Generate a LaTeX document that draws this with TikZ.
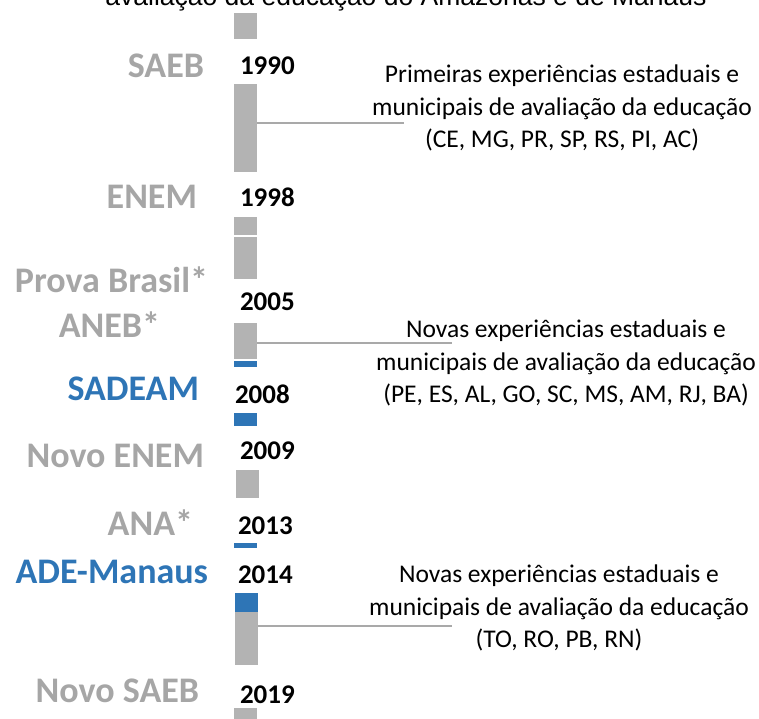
\documentclass[tikz,border=0pt]{standalone}
\usepackage{fontspec}
\setmainfont{Carlito}
\newfontfamily\titlefont{Liberation Sans}
\definecolor{labgray}{HTML}{A6A6A6}
\definecolor{bargray}{HTML}{B3B3B3}
\definecolor{linegray}{HTML}{A9A9A9}
\definecolor{sblue}{HTML}{2E75B6}
\begin{document}
\begin{tikzpicture}[x=1pt, y=-1pt,
  every node/.style = {inner sep=0, outer sep=0},
  barg/.style = {fill=bargray, minimum width=23, anchor=north west},
  barb/.style = {barg, fill=sblue},
  exam/.style = {font=\bfseries\fontsize{36}{42}\selectfont, text=labgray, anchor=base east},
  yr/.style = {font=\bfseries\fontsize{27}{31}\selectfont, anchor=base west},
  note/.style = {align=center, font=\fontsize{25.5}{32.5}\selectfont},
  link/.style = {draw=linegray, line width=1.5pt}]
  \useasboundingbox (0,0) rectangle (759,718);
  \clip (0,0) rectangle (759,718);
  % title, cut at the top
  \node[font=\titlefont\fontsize{26.5}{31}\selectfont, anchor=base] (title) at (406,5) {avaliação da educação do Amazonas e de Manaus};
  % timeline bars
  \node[barg, minimum height=26] (b1) at (234,13) {};
  \node[barg, minimum height=88] (b2) at (234,84) {};
  \node[barg, minimum height=18] (b3) at (234,217) {};
  \node[barg, minimum height=42] (b4) at (234,237) {};
  \node[barg, minimum height=36] (b5) at (234,323) {};
  \node[barb, minimum height=6] (b6) at (234,361) {};
  \node[barb, minimum height=13] (b7) at (234,413) {};
  \node[barg, minimum height=28] (b8) at (236,470) {};
  \node[barb, minimum height=5] (b9) at (234,543) {};
  \node[barb, minimum height=19] (b10) at (235,593) {};
  \node[barg, minimum height=53] (b11) at (235,612) {};
  \node[barg, minimum height=14] (b12) at (234,708) {};
  % exams
  \node[exam] (saeb) at (204,77) {SAEB};
  \node[exam] (enem) at (197,208) {ENEM};
  \node[exam] (prova) at (208,292) {Prova Brasil*};
  \node[exam] (aneb) at (160,337) {ANEB*};
  \node[exam, text=sblue] (sadeam) at (199,400) {SADEAM};
  \node[exam] (novoenem) at (204,467) {Novo ENEM};
  \node[exam] (ana) at (193,535) {ANA*};
  \node[exam, text=sblue] (ade) at (208,583) {ADE-Manaus};
  \node[exam] (novosaeb) at (199,702) {Novo SAEB};
  % years
  \node[yr] (y1990) at (240,74) {1990};
  \node[yr] (y1998) at (240,206) {1998};
  \node[yr] (y2005) at (240,310) {2005};
  \node[yr] (y2008) at (235,403) {2008};
  \node[yr] (y2009) at (240,459) {2009};
  \node[yr] (y2013) at (238,534) {2013};
  \node[yr] (y2014) at (238,583) {2014};
  \node[yr] (y2019) at (240,703) {2019};
  % state experiences
  \node[note] (n1) at (562,108) {Primeiras experiências estaduais e\\municipais de avaliação da educação\\(CE, MG, PR, SP, RS, PI, AC)};
  \node[note] (n2) at (566,363) {Novas experiências estaduais e\\municipais de avaliação da educação\\(PE, ES, AL, GO, SC, MS, AM, RJ, BA)};
  \node[note] (n3) at (559,608) {Novas experiências estaduais e\\municipais de avaliação da educação\\(TO, RO, PB, RN)};
  \coordinate (e1) at (404,123);
  \coordinate (e2) at (452,343);
  \coordinate (e3) at (452,626);
  \draw[link] (b2.east |- e1) -- (e1);
  \draw[link] (b5.east |- e2) -- (e2);
  \draw[link] (b11.east |- e3) -- (e3);
\end{tikzpicture}
\end{document}
